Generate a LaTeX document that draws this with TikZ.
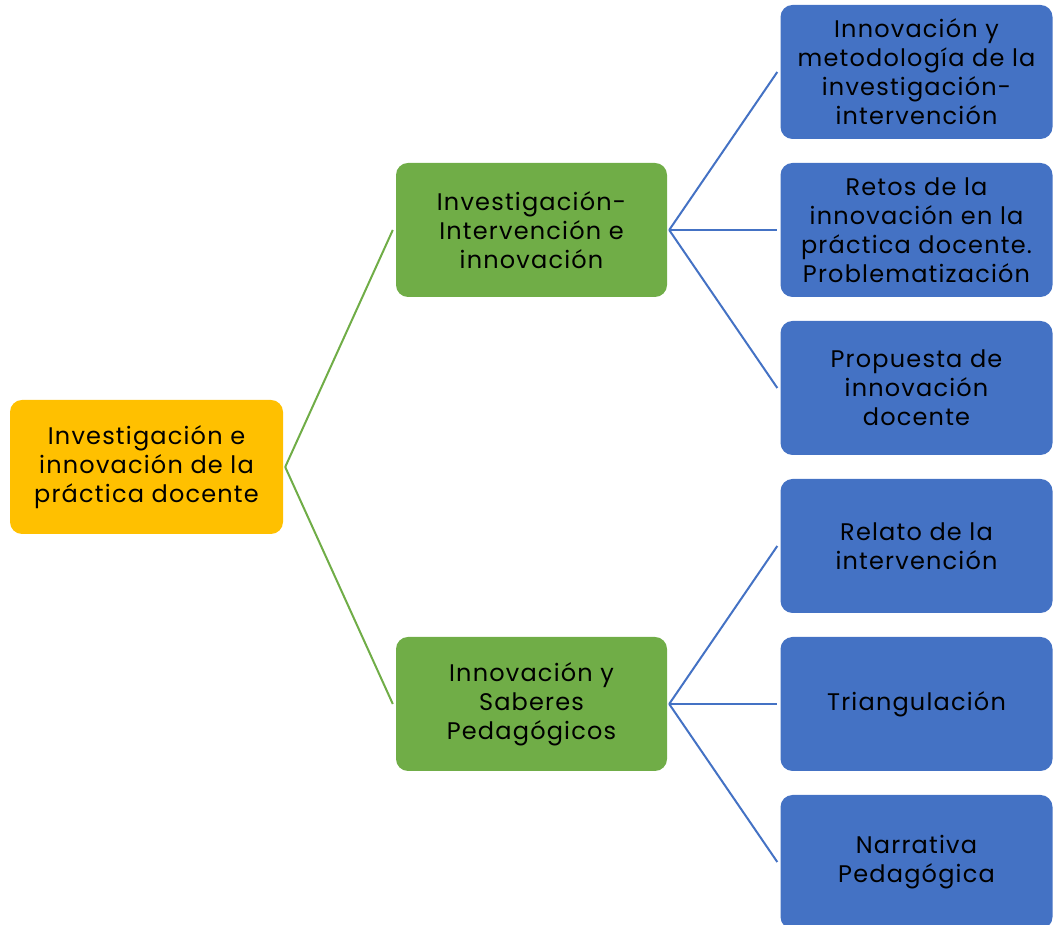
\documentclass[tikz,border=0pt]{standalone}
\usepackage{fontspec}
\setmainfont[LetterSpace=5]{Poppins}
\usepackage{xcolor}
\definecolor{amarillo}{HTML}{FFC000}
\definecolor{verde}{HTML}{70AD47}
\definecolor{azul}{HTML}{4472C4}

\begin{document}
\begin{tikzpicture}[x=1pt,y=1pt,
	caja/.style={rounded corners=12pt,align=center,inner sep=0pt,
		minimum height=134pt,font=\fontsize{24}{29}\selectfont},
	raiz/.style={caja,fill=amarillo,minimum width=273pt},
	tema/.style={caja,fill=verde,minimum width=271pt},
	sub/.style={caja,fill=azul,minimum width=272pt},
	lineav/.style={verde,line width=2pt},
	lineaa/.style={azul,line width=2pt}]
			\useasboundingbox (0,0) rectangle (1054,925);

			% The boxes
			\node[raiz] (r) at (146.5,458) {Investigación e\\innovación de la\\práctica docente};
			\node[tema] (t1) at (531.5,695) {Investigación-\\Intervención e\\innovación};
			\node[tema] (t2) at (531.5,221) {Innovación y\\Saberes\\Pedagógicos};

			\node[sub] (s1) at (916.5,853) {Innovación y\\metodología de la\\investigación-\\intervención};
			\node[sub] (s2) at (916.5,695) {Retos de la\\innovación en la\\práctica docente.\\Problematización};
			\node[sub] (s3) at (916.5,537) {Propuesta de\\innovación\\docente};
			\node[sub] (s4) at (916.5,379) {Relato de la\\intervención};
			\node[sub] (s5) at (916.5,221) {Triangulación};
			\node[sub] (s6) at (916.5,63) {Narrativa\\Pedagógica};

			% The lines
			\draw[lineav] ([xshift=2pt]r.east) -- ([xshift=-3pt]t1.west);
			\draw[lineav] ([xshift=2pt]r.east) -- ([xshift=-3pt]t2.west);
			\foreach \s in {s1,s2,s3}
				\draw[lineaa] ([xshift=2pt]t1.east) -- ([xshift=-3pt]\s.west);
			\foreach \s in {s4,s5,s6}
				\draw[lineaa] ([xshift=2pt]t2.east) -- ([xshift=-3pt]\s.west);
		\end{tikzpicture}
\end{document}
